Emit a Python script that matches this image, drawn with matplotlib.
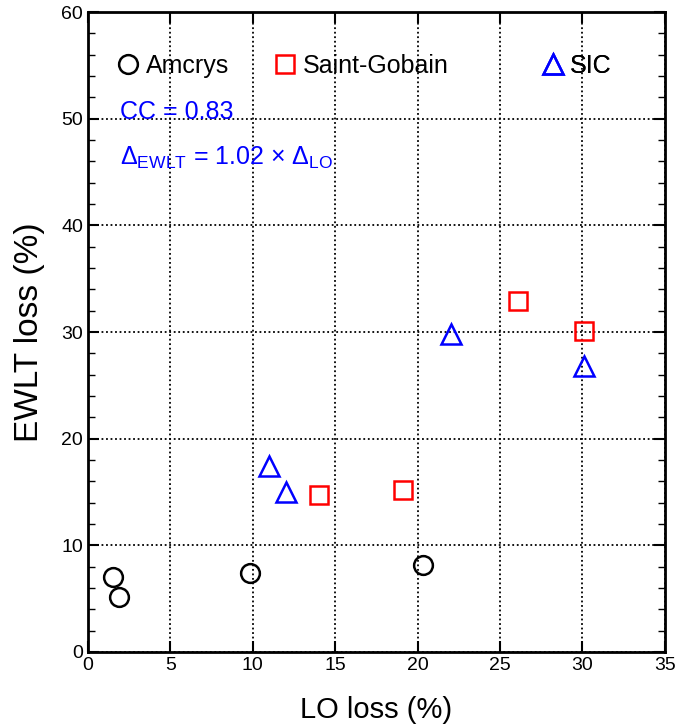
import matplotlib
matplotlib.use("Agg")
import matplotlib.pyplot as plt
from matplotlib.ticker import MultipleLocator

plt.rcParams['font.family'] = ['Liberation Sans', 'DejaVu Sans']
plt.rcParams['mathtext.fontset'] = 'custom'
plt.rcParams['mathtext.rm'] = 'Liberation Sans'
plt.rcParams['mathtext.it'] = 'Liberation Sans'

# LO loss (%) vs EWLT loss (%)
amcrys_lo = [1.5, 1.9, 9.8, 20.3]
amcrys_ewlt = [7.0, 5.2, 7.4, 8.2]
sg_lo = [14.0, 19.1, 26.1, 30.1]
sg_ewlt = [14.7, 15.2, 32.9, 30.1]
sic_lo = [11.0, 12.0, 22.0, 30.1]
sic_ewlt = [17.4, 15.0, 29.8, 26.8]

fig = plt.figure(figsize=(6.77, 7.25), dpi=100)
ax = fig.add_axes([0.130, 0.1007, 0.852, 0.8827])

h1, = ax.plot(amcrys_lo, amcrys_ewlt, 'o', mfc='none', mec='black', mew=1.8, ms=13.5, label='Amcrys')
h2, = ax.plot(sg_lo, sg_ewlt, 's', mfc='none', mec='red', mew=1.8, ms=13.5, label='Saint-Gobain')
h3, = ax.plot(sic_lo, sic_ewlt, '^', mfc='none', mec='blue', mew=1.8, ms=15, label='SIC')

ax.set_xlim(0, 35)
ax.set_ylim(0, 60)
ax.xaxis.set_major_locator(MultipleLocator(5))
ax.yaxis.set_major_locator(MultipleLocator(10))
ax.yaxis.set_minor_locator(MultipleLocator(2))
ax.tick_params(which='both', direction='in', top=True, right=True, labelsize=14)
ax.tick_params(which='major', length=8, width=1.5)
ax.tick_params(which='minor', length=5, width=1)
ax.grid(True, which='major', linestyle=(0, (1, 1.5)), color='black', linewidth=1.3)
for s in ax.spines.values():
    s.set_linewidth(2)

ax.set_xlabel('LO loss (%)', fontsize=21, labelpad=16)
ax.set_ylabel('EWLT loss (%)', fontsize=24, labelpad=12)

# one legend per entry so the column gaps match the original
for h, xl in [(h1, 0.0477), (h2, 0.3198), (h3, 0.784)]:
    leg = ax.legend(handles=[h], loc='center left', bbox_to_anchor=(xl, 0.9156),
                    frameon=False, fontsize=18, handlelength=1.0, handletextpad=0.2,
                    borderpad=0, borderaxespad=0)
    ax.add_artist(leg)

ax.text(1.95, 50.0, 'CC = 0.83', color='blue', fontsize=18, va='baseline')
ax.text(1.95, 45.7, r'$\Delta_{\rm EWLT}$ = 1.02 $\times$ $\Delta_{\rm LO}$', color='blue',
        fontsize=18, va='baseline')

fig.savefig('out.png', dpi=100)
